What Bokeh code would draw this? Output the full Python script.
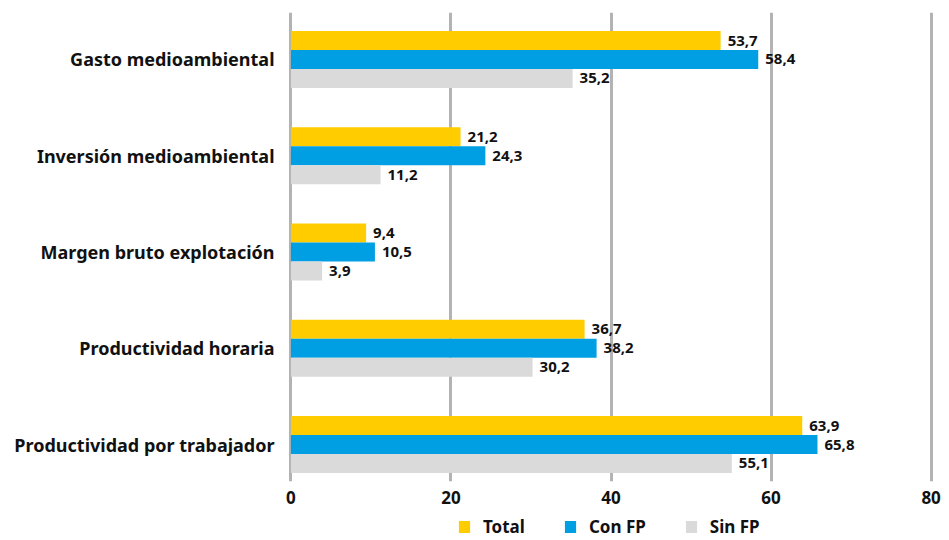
from bokeh.plotting import figure
from bokeh.layouts import column
from bokeh.models import Range1d, FixedTicker, ColumnDataSource, Legend, LegendItem
from bokeh.core.properties import value
from bokeh.embed import file_html
from bokeh.resources import INLINE

categories = ["Gasto medioambiental", "Inversión medioambiental", "Margen bruto explotación",
              "Productividad horaria", "Productividad por trabajador"]
total = [53.7, 21.2, 9.4, 36.7, 63.9]
con_fp = [58.4, 24.3, 10.5, 38.2, 65.8]
sin_fp = [35.2, 11.2, 3.9, 30.2, 55.1]
series_names = ["Total", "Con FP", "Sin FP"]
colors = ["#FFCC00", "#009FE3", "#DADADA"]
x_ticks = [0, 20, 40, 60, 80]

FONT = "Noto Sans"
bar_h = 0.197
offsets = [-bar_h, 0.0, bar_h]

p = figure(frame_width=645, frame_height=469, output_backend="svg", toolbar_location=None,
           x_range=Range1d(-0.3, 80.3), y_range=Range1d(4.384, -0.488),
           min_border_left=288, min_border_right=16, min_border_top=12, min_border_bottom=29)
p.outline_line_color = None
p.background_fill_color = "white"
p.border_fill_color = "white"

pos = list(range(len(categories)))
for vals, off, col in zip([total, con_fp, sin_fp], offsets, colors):
    src = ColumnDataSource(dict(y=[i + off for i in pos], v=vals,
                                lab=[f"{v:.1f}".replace(".", ",") for v in vals]))
    p.hbar(y="y", right="v", left=0, height=bar_h, source=src, fill_color=col, line_color=None)
    p.text(x="v", y="y", text="lab", source=src, x_offset=7, text_baseline="middle",
           text_align="left", text_font=value(FONT), text_font_style="bold",
           text_font_size="15px", text_color="#111111")

p.xaxis.ticker = FixedTicker(ticks=x_ticks)
p.xaxis.axis_line_color = None
p.xaxis.major_tick_line_color = None
p.xaxis.minor_tick_line_color = None
p.xaxis.major_label_text_font = FONT
p.xaxis.major_label_text_font_style = "bold"
p.xaxis.major_label_text_font_size = "17px"
p.xaxis.major_label_text_color = "#111111"
p.xaxis.major_label_standoff = 3

p.yaxis.ticker = FixedTicker(ticks=pos)
p.yaxis.major_label_overrides = {i: c for i, c in enumerate(categories)}
p.yaxis.axis_line_color = None
p.yaxis.major_tick_line_color = None
p.yaxis.minor_tick_line_color = None
p.yaxis.major_label_text_font = FONT
p.yaxis.major_label_text_font_style = "bold"
p.yaxis.major_label_text_font_size = "18px"
p.yaxis.major_label_text_color = "#111111"
p.yaxis.major_label_standoff = 8

p.xgrid.grid_line_color = "#B3B3B3"
p.xgrid.grid_line_width = 3
p.ygrid.grid_line_color = None

# legend strip below the chart (its frame is aligned with the chart's frame)
lf = figure(width=949, height=30, output_backend="svg", toolbar_location=None,
            x_range=Range1d(0, 1), y_range=Range1d(0, 1),
            min_border_left=0, min_border_right=0, min_border_top=0, min_border_bottom=0)
lf.axis.visible = False
lf.grid.visible = False
lf.outline_line_color = None
items = []
for name, col in zip(series_names, colors):
    r = lf.rect(x=[-5], y=[-5], width=1, height=1, fill_color=col, line_color=None)
    items.append(LegendItem(label=name, renderers=[r]))
legend = Legend(items=items, orientation="horizontal", location=(169, 2),
                label_text_font=FONT, label_text_font_style="bold", label_text_font_size="17px",
                label_text_color="#111111", glyph_width=14, glyph_height=15,
                label_standoff=12, spacing=38, padding=0, margin=0, border_line_color=None,
                background_fill_alpha=0)
lf.add_layout(legend, "center")

layout = column(p, lf, spacing=0)
open("out.html", "w").write(file_html(layout, INLINE))
